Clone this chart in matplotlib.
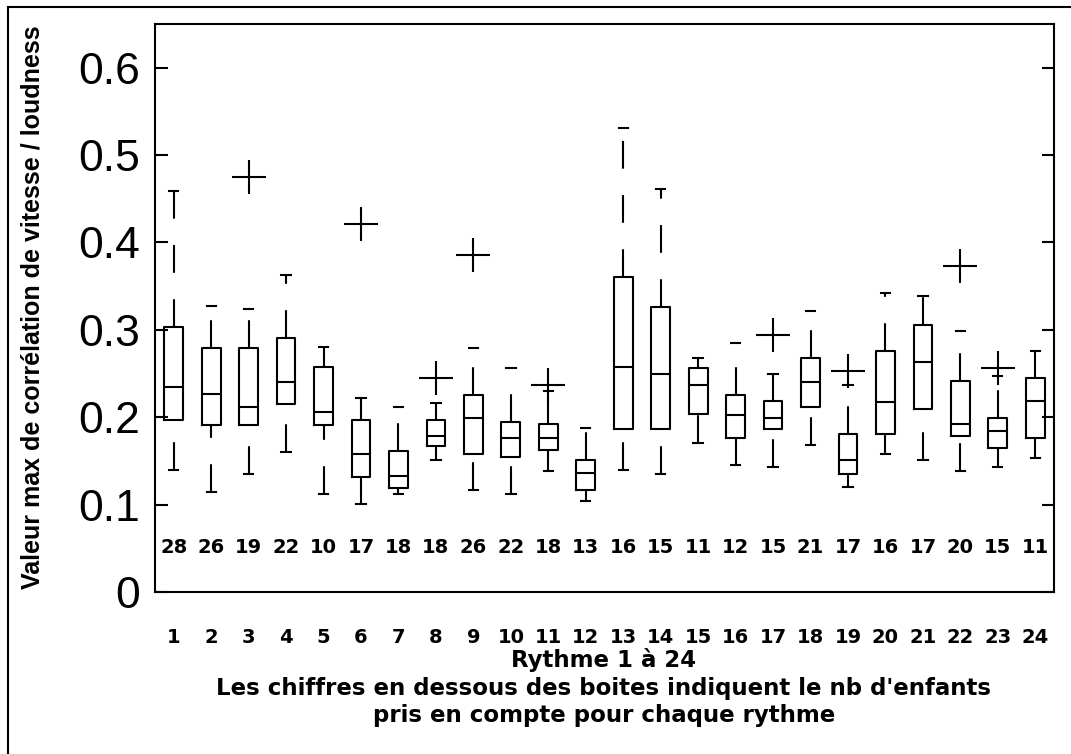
import matplotlib
matplotlib.use("Agg")
import matplotlib.pyplot as plt
from matplotlib.lines import Line2D

# one entry per rhythm 1..24
rythmes = list(range(1, 25))
n_enfants = [28, 26, 19, 22, 10, 17, 18, 18, 26, 22, 18, 13,
             16, 15, 11, 12, 15, 21, 17, 16, 17, 20, 15, 11]
whis_bas = [0.140, 0.115, 0.135, 0.160, 0.112, 0.101, 0.112, 0.151, 0.117, 0.112, 0.138, 0.104,
            0.140, 0.135, 0.171, 0.145, 0.143, 0.168, 0.120, 0.158, 0.151, 0.138, 0.143, 0.153]
q1 = [0.197, 0.191, 0.191, 0.215, 0.191, 0.132, 0.119, 0.167, 0.158, 0.155, 0.162, 0.117,
      0.186, 0.186, 0.204, 0.176, 0.186, 0.212, 0.135, 0.181, 0.209, 0.178, 0.165, 0.176]
mediane = [0.235, 0.227, 0.212, 0.240, 0.206, 0.158, 0.133, 0.179, 0.199, 0.176, 0.176, 0.136,
           0.258, 0.250, 0.237, 0.202, 0.199, 0.240, 0.151, 0.217, 0.263, 0.192, 0.184, 0.219]
q3 = [0.303, 0.279, 0.279, 0.291, 0.258, 0.197, 0.161, 0.197, 0.225, 0.194, 0.192, 0.151,
      0.360, 0.326, 0.256, 0.225, 0.219, 0.268, 0.181, 0.276, 0.306, 0.242, 0.199, 0.245]
whis_haut = [0.459, 0.327, 0.324, 0.363, 0.280, 0.222, 0.212, 0.216, 0.279, 0.256, 0.230, 0.188,
             0.531, 0.461, 0.268, 0.285, 0.250, 0.322, 0.237, 0.342, 0.339, 0.299, 0.247, 0.276]
aberrants = [[], [], [0.475], [], [], [0.421], [], [0.245], [0.386], [], [0.237], [],
             [], [], [], [], [0.294], [], [0.253], [], [], [0.373], [0.256], []]

W, H = 1071, 754
plt.rcParams["lines.scale_dashes"] = False
fig = plt.figure(figsize=(W / 100, H / 100), dpi=100, facecolor="white")
ax = fig.add_axes([155 / W, 1 - 592 / H, (1054 - 155) / W, (592 - 24) / H])

stats = []
for i in range(len(rythmes)):
    stats.append({"med": mediane[i], "q1": q1[i], "q3": q3[i],
                  "whislo": whis_bas[i], "whishi": whis_haut[i],
                  "fliers": aberrants[i]})

lw = 1.5
res = ax.bxp(stats, positions=rythmes, widths=0.5, capwidths=0.25,
             boxprops=dict(color="black", lw=lw),
             medianprops=dict(color="black", lw=lw),
             whiskerprops=dict(color="black", lw=lw, linestyle=(0, (20, 19))),
             capprops=dict(color="black", lw=lw),
             flierprops=dict(marker="+", markersize=24, markeredgewidth=1.5,
                             markeredgecolor="black", linestyle="none"))
# lower whiskers: dash pattern starts at the cap, like the original
for wl in res["whiskers"][0::2]:
    wl.set_ydata(list(wl.get_ydata())[::-1])

for x, n in zip(rythmes, n_enfants):
    ax.text(x, 0.051, str(n), ha="center", va="center", fontsize=14,
            fontweight="bold", family="DejaVu Sans")

ax.set_xlim(0.5, 24.5)
ax.set_ylim(0, 0.65)
ax.set_yticks([0, 0.1, 0.2, 0.3, 0.4, 0.5, 0.6])
ax.set_yticklabels(["0", "0.1", "0.2", "0.3", "0.4", "0.5", "0.6"],
                   fontsize=32, family="Liberation Sans")
ax.set_xticks(rythmes)
ax.set_xticklabels([str(r) for r in rythmes], fontsize=14, fontweight="bold",
                   family="DejaVu Sans")
ax.tick_params(axis="y", direction="in", length=9, width=1.5, pad=11,
               right=True, left=True)
ax.tick_params(axis="x", length=0, pad=26)
for s in ax.spines.values():
    s.set_linewidth(1.5)

fig.text(33 / W, 1 - 307 / H, "Valeur max de corrélation de vitesse / loudness",
         rotation=90, ha="center", va="center", fontsize=18, fontweight="bold",
         family="Liberation Sans")
lignes = ["Rythme 1 à 24",
          "Les chiffres en dessous des boites indiquent le nb d'enfants",
          "pris en compte pour chaque rythme"]
for y, t in zip([667, 695, 722], lignes):
    fig.text(604 / W, 1 - y / H, t, ha="center", va="baseline", fontsize=16.5,
             fontweight="bold", family="DejaVu Sans")

# outer frame (only left and top edges visible in the original crop)
fig.add_artist(Line2D([8 / W, 8 / W], [0, 1 - 7 / H], color="black", lw=1.5))
fig.add_artist(Line2D([8 / W, 1], [1 - 7 / H, 1 - 7 / H], color="black", lw=1.5))

fig.savefig("out.png", dpi=100, facecolor="white")
